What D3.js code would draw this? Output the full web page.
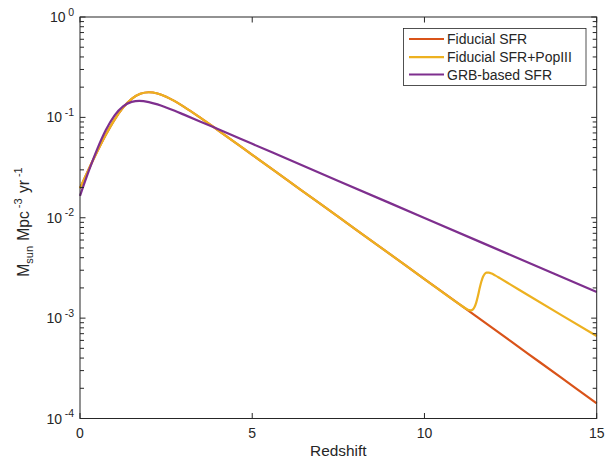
<!DOCTYPE html>
<html><head><meta charset="utf-8">
<script src="https://cdn.jsdelivr.net/npm/d3@7"></script>
<style>body{margin:0;background:#fff}svg{display:block}text{font-family:"Liberation Sans",Arial,Helvetica,sans-serif;fill:#262626}</style>
</head><body>
<script>
// ---- data ----
const zFid = [0,0.25,0.5,0.75,1,1.25,1.5,1.75,2,2.25,2.5,2.75,3,3.5,4,5,6,7,8,9,10,11,12,13,14,15];
const sfrFid = [0.01968,0.03021,0.04562,0.06706,0.09446,0.1251,0.1531,0.1718,0.178,0.1730,0.1607,0.1451,0.1287,0.09878,0.07475,0.04238,0.02397,0.01356,0.007667,0.004336,0.002452,0.001387,0.0007842,0.0004435,0.0002508,0.0001418];
const zPop = [0,0.25,0.5,0.75,1,1.25,1.5,1.75,2,2.25,2.5,2.75,3,3.5,4,5,6,7,8,9,10,11,11.25,11.3,11.35,11.4,11.45,11.5,11.55,11.6,11.65,11.7,11.75,11.8,11.87,11.95,12.05,12.2,12.5,13,14,15];
const sfrPop = [0.01968,0.03021,0.04562,0.06706,0.09446,0.1251,0.1531,0.1718,0.178,0.1730,0.1607,0.1451,0.1287,0.09878,0.07475,0.04238,0.02397,0.01356,0.007667,0.004336,0.002452,0.001387,0.001219,0.0012,0.001195,0.001216,0.001283,0.001421,0.001652,0.001968,0.002307,0.002587,0.002762,0.00284,0.002845,0.00278,0.002666,0.002486,0.002156,0.0017,0.00106,0.000663];
const zGrb = [0,0.25,0.5,0.75,1,1.25,1.5,1.72,2,2.25,2.5,2.75,3,3.5,4,5,7.5,10,12.5,15];
const sfrGrb = [0.01651,0.02891,0.04831,0.0748,0.1042,0.1287,0.1426,0.146,0.1421,0.1346,0.1255,0.1162,0.1071,0.09065,0.07653,0.05448,0.02329,0.009953,0.004254,0.001818];
const seriesNames = ["Fiducial SFR","Fiducial SFR+PopIII","GRB-based SFR"];
const seriesColors = ["#D95319","#EDB120","#7E2F8E"];
const xTicks = [0,5,10,15];
const yTickExps = [-4,-3,-2,-1,0];
const xLabel = "Redshift";

// ---- layout ----
const W=612,H=462, L=80, R=596.7, T=17, B=418.5;
const svg=d3.select("body").append("svg").attr("width",W).attr("height",H);
const x=d3.scaleLinear().domain([0,15]).range([L,R]);
const y=d3.scaleLog().domain([1e-4,1]).range([B,T]);
const ink="#262626";

const plot=svg.append("g");
const line=(zs,vs)=>d3.line().x(d=>x(d[0])).y(d=>y(d[1])).curve(d3.curveMonotoneX)(zs.map((z,i)=>[z,vs[i]]));
const data=[[zFid,sfrFid],[zPop,sfrPop],[zGrb,sfrGrb]];
data.forEach((d,i)=>{
  plot.append("path").attr("d",line(d[0],d[1])).attr("fill","none")
   .attr("stroke",seriesColors[i]).attr("stroke-width",2.2).attr("stroke-linejoin","round");
});

// axes box
const ax=svg.append("g").attr("stroke",ink).attr("stroke-width",1).attr("fill","none");
ax.append("rect").attr("x",L).attr("y",T).attr("width",R-L).attr("height",B-T);
// x ticks
xTicks.forEach(t=>{
  ax.append("line").attr("x1",x(t)).attr("x2",x(t)).attr("y1",B).attr("y2",B-5.5);
  ax.append("line").attr("x1",x(t)).attr("x2",x(t)).attr("y1",T).attr("y2",T+5.5);
  svg.append("text").attr("x",x(t)).attr("y",B+19.5).attr("text-anchor","middle").attr("font-size",14).text(t);
});
// y ticks (major + minor)
yTickExps.forEach(e=>{
  const v=Math.pow(10,e);
  ax.append("line").attr("x1",L).attr("x2",L+5.5).attr("y1",y(v)).attr("y2",y(v));
  ax.append("line").attr("x1",R).attr("x2",R-5.5).attr("y1",y(v)).attr("y2",y(v));
  if(e<0){for(let k=2;k<=9;k++){const m=k*v;
    ax.append("line").attr("x1",L).attr("x2",L+4).attr("y1",y(m)).attr("y2",y(m));
    ax.append("line").attr("x1",R).attr("x2",R-4).attr("y1",y(m)).attr("y2",y(m));}}
  const tx=svg.append("text").attr("x",74).attr("y",y(v)+5).attr("text-anchor","end").attr("font-size",14);
  tx.append("tspan").text("10");
  tx.append("tspan").attr("font-size",10.5).attr("dy",-6.5).attr("dx",2.5).text(e===0?"0":"-"+(-e));
});

// x label
svg.append("text").attr("x",(L+R)/2).attr("y",456).attr("text-anchor","middle").attr("font-size",15.4).text(xLabel);
// y label
const yl=svg.append("text").attr("transform","translate(28.5,222) rotate(-90)").attr("text-anchor","middle").attr("font-size",15.6);
yl.append("tspan").text("M");
yl.append("tspan").attr("font-size",11).attr("dy",4).text("sun");
yl.append("tspan").attr("dy",-4).attr("dx",1).text(" Mpc");
yl.append("tspan").attr("font-size",11).attr("dy",-6.5).attr("dx",3).text("-3");
yl.append("tspan").attr("dy",6.5).attr("dx",1).text(" yr");
yl.append("tspan").attr("font-size",11).attr("dy",-6.5).attr("dx",3).text("-1");

// legend
const lg=svg.append("g");
lg.append("rect").attr("x",403.5).attr("y",28.5).attr("width",182.5).attr("height",57).attr("fill","#fff").attr("stroke",ink).attr("stroke-width",0.8);
const rowY=[39,57.2,74.5];
seriesNames.forEach((n,i)=>{
  lg.append("line").attr("x1",409).attr("x2",444).attr("y1",rowY[i]).attr("y2",rowY[i]).attr("stroke",seriesColors[i]).attr("stroke-width",2.2);
  lg.append("text").attr("x",447).attr("y",rowY[i]+5).attr("font-size",14).text(n);
});
</script>
</body></html>
